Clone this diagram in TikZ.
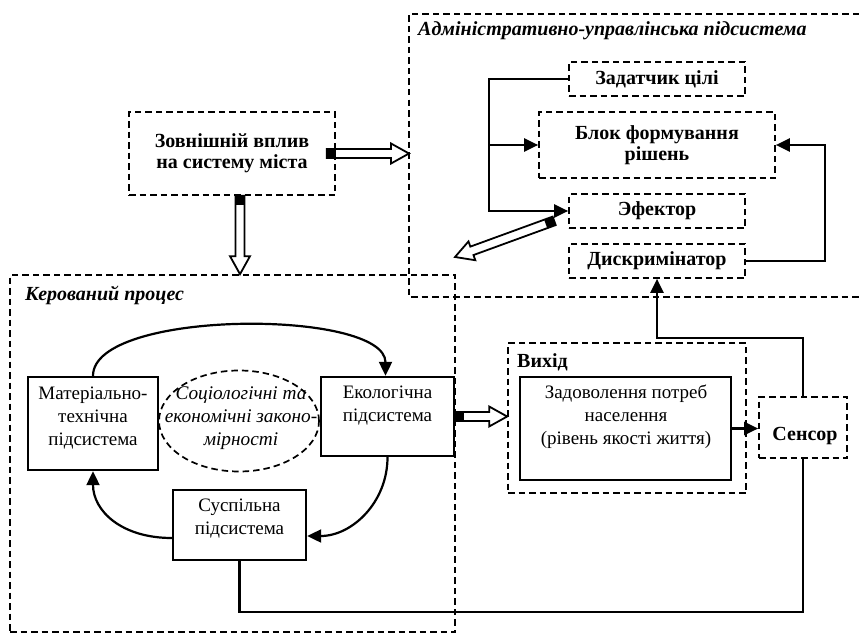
\documentclass[tikz,border=0pt]{standalone}
\usepackage{fontspec}
\setmainfont{Liberation Serif}
\usetikzlibrary{arrows.meta,calc,shapes.geometric}
\newcommand\hollowarrow[2]{%
  \coordinate (hA) at (#1);
  \coordinate (hB) at (#2);
  \coordinate (hC) at ($(hB)!18pt!(hA)$);
  \coordinate (hD) at ($(hA)!9pt!(hB)$);
  \draw[hollow] ($(hA)!4.5pt!90:(hB)$) -- ($(hC)!4.5pt!-90:(hA)$) -- ($(hC)!10pt!-90:(hA)$) -- (hB) -- ($(hC)!10pt!90:(hA)$) -- ($(hC)!4.5pt!90:(hA)$) -- ($(hA)!4.5pt!-90:(hB)$) -- cycle;
  \fill ($(hA)!4.5pt!90:(hB)$) -- ($(hD)!4.5pt!-90:(hA)$) -- ($(hD)!4.5pt!90:(hA)$) -- ($(hA)!4.5pt!-90:(hB)$) -- cycle;
}
\begin{document}
\begin{tikzpicture}[x=1pt,y=-1pt,
  dline/.style={line width=1.7pt, dash pattern=on 6.5pt off 4pt},
  dbox/.style={draw, dline, inner sep=0pt, align=center, font=\bfseries\fontsize{20}{21}\selectfont},
  sbox/.style={draw, line width=2.4pt, inner sep=0pt},
  txt/.style={inner sep=0pt, align=center, font=\fontsize{19}{23}\selectfont},
  btxt/.style={inner sep=0pt, align=center, font=\bfseries\fontsize{20}{21}\selectfont},
  bitxt/.style={inner sep=0pt, font=\bfseries\itshape\fontsize{20}{21}\selectfont},
  itxt/.style={inner sep=0pt, align=center, font=\itshape\fontsize{19.3}{23}\selectfont},
  conn/.style={line width=2.2pt},
  arr/.style={-{Triangle[length=14pt,width=13pt]}},
  hollow/.style={draw, fill=white, line width=1.8pt},
]
\useasboundingbox (0,0) rectangle (859,634);

% administrative subsystem (open on the right)
\coordinate (adm-ne) at (859,14);
\coordinate (adm-nw) at (409,14);
\coordinate (adm-sw) at (409,297);
\coordinate (adm-se) at (859,297);
\draw[dline] (adm-ne) -- (adm-nw) -- (adm-sw) -- (adm-se);
\node[bitxt, anchor=base west] (admT) at (418,36) {Адміністративно-управлінська підсистема};

% controlled process
\node[draw, dline, minimum width=445pt, minimum height=357pt, inner sep=0pt] (ker) at (232.5,453.5) {};
\node[bitxt, anchor=base west] (kerT) at (25,300) {Керований процес};

\node[dbox, minimum width=206pt, minimum height=83pt] (zv) at (232,153.5) {Зовнішній вплив\\на систему міста};
\node[dbox, minimum width=176pt, minimum height=34pt] (zad) at (657,79) {Задатчик цілі};
\node[dbox, minimum width=236pt, minimum height=66pt] (blok) at (657,145) {Блок формування\\рішень};
\node[dbox, minimum width=176pt, minimum height=34pt] (ef) at (657,211) {Эфектор};
\node[dbox, minimum width=176pt, minimum height=34pt] (dys) at (657,261) {Дискримінатор};
\node[draw, dline, minimum width=88pt, minimum height=61pt, inner sep=0pt] (sens) at (803,427.5) {};
\node[btxt, anchor=base] (sensT) at (805,440) {Сенсор};
\node[draw, dline, minimum width=238pt, minimum height=150pt, inner sep=0pt] (vyh) at (627,418) {};
\node[btxt, anchor=base west] (vyhT) at (517,367) {Вихід};

\node[sbox, minimum width=211pt, minimum height=103pt] (zado) at (625.5,428.5) {};
\node[txt] (zadoT) at (626,417) {Задоволення потреб\\населення\\(рівень якості життя)};
\node[sbox, minimum width=130pt, minimum height=93pt] (mat) at (93,423.5) {};
\node[txt] (matT) at (93,418) {Матеріально-\\технічна\\підсистема};
\node[sbox, minimum width=133pt, minimum height=79pt] (eko) at (387.5,416.5) {};
\node[txt] (ekoT) at (387.5,405.5) {Екологічна\\підсистема};
\node[sbox, minimum width=133pt, minimum height=70pt] (susp) at (239.5,525) {};
\node[txt] (suspT) at (239.5,519) {Суспільна\\підсистема};
\node[ellipse, draw, dline, minimum width=160pt, minimum height=101pt, inner sep=0pt] (soc) at (239,421) {};
\node[itxt] (socT) at (241,418) {Соціологічні та\\економічні законо-\\мірності};

% connectors
\coordinate (jx) at (489,0);
\draw[conn,arr] (zad.west) -| (jx |- ef.west) -- (ef.west);
\draw[conn,arr] (jx |- blok.west) -- (blok.west);
\coordinate (rx) at (825,0);
\draw[conn,arr] (dys.east) -| (rx |- blok.east) -- (blok.east);
\coordinate (sj) at (0,338);
\draw[conn,arr] (sens.north) |- (dys.south |- sj) -- (dys.south);
\coordinate (bj) at (0,612);
\draw[conn] (susp.south) |- (sens.south |- bj) -- (sens.south);
\draw[conn,arr] (zado.east) -- (zado.east -| sens.west);

\draw[conn,arr] (mat.north) .. controls +(0,-67) and +(0,-67) .. ([xshift=-2pt]eko.north);
\draw[conn,arr] (eko.south) .. controls +(0,45) and +(45,0) .. ([yshift=-11pt]susp.east);
\draw[conn,arr] ([yshift=-13pt]susp.west) .. controls +(-50,0) and +(0,40) .. (mat.south);

% hollow arrows
\coordinate (zvr) at ([xshift=-9pt]zv.east);
\hollowarrow{zvr}{zv.east -| adm-nw}
\coordinate (zvd) at ([xshift=8pt]zv.south);
\hollowarrow{zvd}{zvd |- ker.north}
\hollowarrow{eko.east}{eko.east -| vyh.west}
\coordinate (efin) at ($(ef.south west)+(-14,-8)$);
\coordinate (efout) at (455,257);
\hollowarrow{efin}{efout}
\end{tikzpicture}
\end{document}
